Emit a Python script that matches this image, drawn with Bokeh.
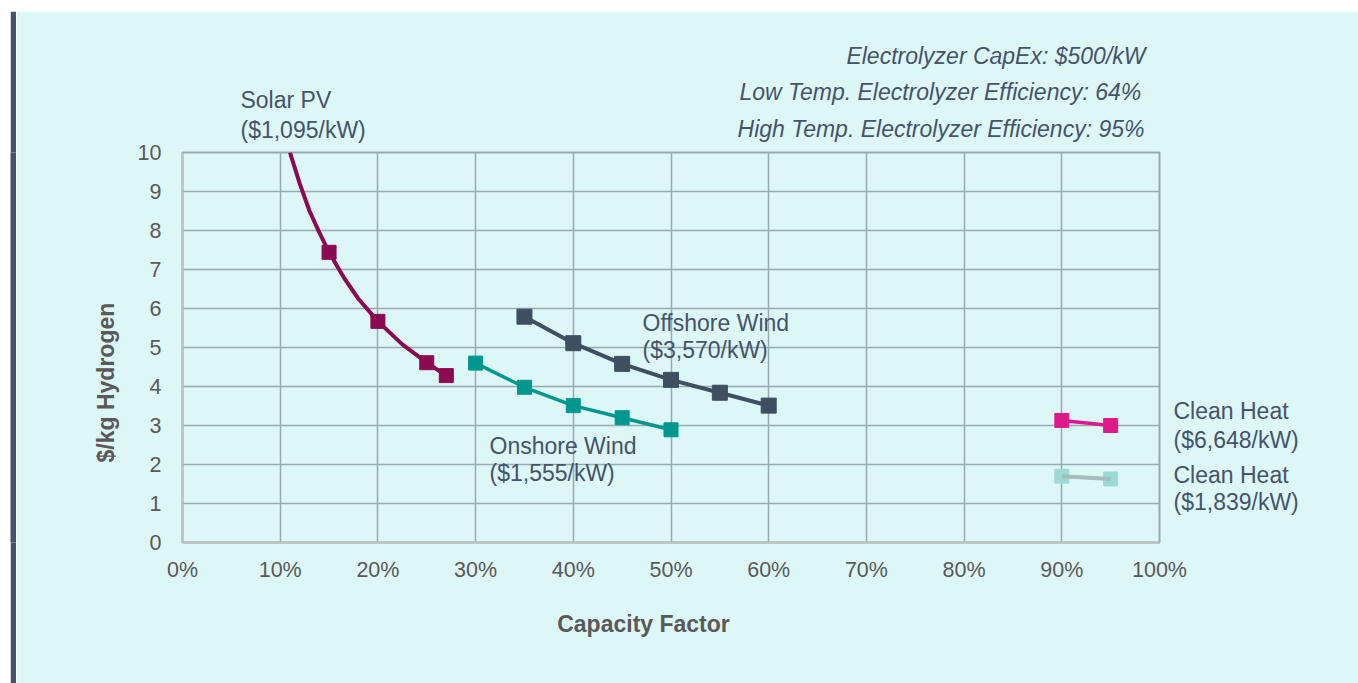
from math import pi
from bokeh.plotting import figure
from bokeh.layouts import row
from bokeh.models import LinearAxis, FixedTicker
from bokeh.embed import file_html
from bokeh.resources import INLINE

# ---- data ----
solar_curve_cf = [11.0, 12.0, 13.0, 14.0, 15.0, 16.5, 18.0, 20.0, 22.5, 25.0, 27.0]
solar_curve_cost = [10.0, 9.2, 8.5, 7.95, 7.44, 6.8, 6.25, 5.67, 5.08, 4.61, 4.28]
solar_cf = [15, 20, 25, 27]
solar_cost = [7.44, 5.67, 4.61, 4.28]

offshore_cf = [35, 40, 45, 50, 55, 60]
offshore_cost = [5.79, 5.11, 4.58, 4.17, 3.84, 3.51]

onshore_cf = [30, 35, 40, 45, 50]
onshore_cost = [4.60, 3.98, 3.51, 3.20, 2.89]

heat_high_cf = [90, 95]
heat_high_cost = [3.13, 3.00]
heat_low_cf = [90, 95]
heat_low_cost = [1.70, 1.63]

x_ticks = [0, 10, 20, 30, 40, 50, 60, 70, 80, 90, 100]
x_tick_labels = ["0%", "10%", "20%", "30%", "40%", "50%", "60%", "70%", "80%", "90%", "100%"]
y_ticks = [0, 1, 2, 3, 4, 5, 6, 7, 8, 9, 10]

solar_label = ["Solar PV", "($1,095/kW)"]
offshore_label = ["Offshore Wind", "($3,570/kW)"]
onshore_label = ["Onshore Wind", "($1,555/kW)"]
heat_labels = ["Clean Heat", "($6,648/kW)", "Clean Heat", "($1,839/kW)"]
notes = ["Electrolyzer CapEx: $500/kW",
         "Low Temp. Electrolyzer  Efficiency: 64%",
         "High Temp. Electrolyzer Efficiency: 95%"]
x_title = "Capacity Factor"
y_title = "$/kg Hydrogen"

# ---- styles ----
BG = "#DDF6F6"
BAR = "#44546A"
FONT = "Liberation Sans"
LABEL_C = "#44546A"
TICK_C = "#595959"
GRID_C = "#97ABAE"
FS = 23          # label font size (px)
TFS = "21.5px"   # tick font size

C_SOLAR = "#8B0A50"
C_OFF = "#3E4F5F"
C_ON = "#00978F"
C_HEAT_HI = "#E0198A"
C_HEAT_LO_M = "#9DDAD6"
C_HEAT_LO_L = "#A3BEC0"

# Arial / Liberation Sans advance widths (1/1000 em), for placing text
_W = {" ": 278, "(": 333, ")": 333, "$": 556, ",": 278, "/": 278, ":": 278, ".": 278, "%": 889,
      "a": 556, "b": 556, "c": 500, "d": 556, "e": 556, "f": 278, "g": 556, "h": 556, "i": 222,
      "k": 500, "l": 222, "m": 833, "n": 556, "o": 556, "p": 556, "r": 333, "s": 500, "t": 278,
      "u": 556, "w": 722, "x": 500, "y": 500, "z": 500,
      "C": 722, "E": 667, "H": 722, "L": 556, "O": 778, "P": 667, "S": 667, "T": 611, "V": 667,
      "W": 944}
_WB = {"$": 556, "/": 278, "k": 556, "g": 611, " ": 278, "H": 722, "y": 556, "d": 611, "r": 389,
       "o": 611, "e": 556, "n": 611}


def text_w(s, fs=FS, table=_W):
    s = " ".join(s.split())  # svg collapses repeated spaces
    return sum(table.get(ch, 556) for ch in s) * fs / 1000.0


# frame geometry in page pixels (for converting text anchors)
FX0, FX1 = 182, 1159
FY0, FY1 = 542, 152
PX_PER_X = (FX1 - FX0) / 100.0
PX_PER_Y = (FY0 - FY1) / 10.0


def center_from_left(left_px, s):
    return (left_px + text_w(s) / 2 - FX0) / PX_PER_X


def center_from_right(right_px, s):
    return (right_px - text_w(s) / 2 - FX0) / PX_PER_X


p = figure(width=1342, height=672, x_range=(0, 100), y_range=(0, 10),
           output_backend="svg", toolbar_location=None,
           min_border_left=166, min_border_right=199,
           min_border_top=141, min_border_bottom=141,
           background_fill_color=BG, border_fill_color=BG,
           outline_line_color=GRID_C, outline_line_width=2,
           margin=(11, 0, 0, 0))

p.xaxis.ticker = FixedTicker(ticks=x_ticks)
p.xaxis.major_label_overrides = {t: l for t, l in zip(x_ticks, x_tick_labels)}
p.yaxis.ticker = FixedTicker(ticks=y_ticks)
for ax in (p.xaxis, p.yaxis):
    ax.major_tick_line_color = None
    ax.minor_tick_line_color = None
    ax.major_tick_out = 0
    ax.major_tick_in = 0
    ax.minor_tick_out = 0
    ax.axis_line_color = "#BFBFBF"
    ax.axis_line_width = 2
    ax.major_label_text_font = FONT
    ax.major_label_text_font_size = TFS
    ax.major_label_text_color = TICK_C
p.xaxis.major_label_standoff = 15
p.yaxis.major_label_standoff = 21

p.xgrid.ticker = FixedTicker(ticks=x_ticks)
p.ygrid.ticker = FixedTicker(ticks=y_ticks)
p.grid.grid_line_color = GRID_C
p.grid.grid_line_width = 1.5


def text_axis(place, ticks, labels, standoff, color=LABEL_C, style="normal", orient="horizontal"):
    ax = LinearAxis(ticker=FixedTicker(ticks=ticks),
                    major_label_overrides={t: l for t, l in zip(ticks, labels)},
                    axis_line_color=None, major_tick_line_color=None, minor_tick_line_color=None,
                    major_tick_out=0, major_tick_in=0, minor_tick_out=0, minor_tick_in=0,
                    major_label_standoff=standoff, major_label_text_font=FONT,
                    major_label_text_font_size=f"{FS}px", major_label_text_color=color,
                    major_label_text_font_style=style, major_label_orientation=orient)
    p.add_layout(ax, place)
    return ax


# series
p.line(solar_curve_cf, solar_curve_cost, line_color=C_SOLAR, line_width=4)
p.scatter(solar_cf, solar_cost, marker="square", size=14, color=C_SOLAR)

p.line(offshore_cf, offshore_cost, line_color=C_OFF, line_width=4)
p.scatter(offshore_cf, offshore_cost, marker="square", size=15, color=C_OFF)

p.line(onshore_cf, onshore_cost, line_color=C_ON, line_width=3.5)
p.scatter(onshore_cf, onshore_cost, marker="square", size=14, color=C_ON)

p.line(heat_high_cf, heat_high_cost, line_color=C_HEAT_HI, line_width=3.5)
p.scatter(heat_high_cf, heat_high_cost, marker="square", size=14, color=C_HEAT_HI)

p.scatter(heat_low_cf, heat_low_cost, marker="square", size=14, color=C_HEAT_LO_M)
p.line(heat_low_cf, heat_low_cost, line_color=C_HEAT_LO_L, line_width=4)

# in-frame series labels
for lbl, left_px, ys in ((offshore_label, 642, (5.64, 4.93)), (onshore_label, 489, (2.47, 1.78))):
    for s, yy in zip(lbl, ys):
        p.text(x=[(left_px - FX0) / PX_PER_X], y=[yy], text=[s], text_align="left",
               text_baseline="middle", text_font={"value": FONT}, text_font_size=f"{FS}px",
               text_color=LABEL_C)

# text rows above the frame (stacked outward from the frame)
text_axis("above", [center_from_left(240, solar_label[1])], [solar_label[1]], 10)
text_axis("above", [center_from_right(1145, notes[2])], [notes[2]], -28, style="italic")
text_axis("above", [center_from_left(240, solar_label[0])], [solar_label[0]], 0)
text_axis("above", [center_from_right(1145, notes[1])], [notes[1]], -21, style="italic")
text_axis("above", [center_from_right(1145, notes[0])], [notes[0]], 7, style="italic")

# right side labels for clean heat
text_axis("right", [3.36, 2.62, 1.74, 1.05], heat_labels, 14)

# axis titles
text_axis("below", [(643 - FX0) / PX_PER_X], [x_title], 26, color=TICK_C, style="bold")
# rotated label is anchored at its end: shift the anchor by half the text length
y_title_anchor = 4.10 + text_w(y_title, table=_WB) / 2 / PX_PER_Y
text_axis("left", [y_title_anchor], [y_title], 28, color=TICK_C, style="bold", orient=pi / 2)

# dark left bar
bar = figure(width=6, height=672, output_backend="svg", toolbar_location=None,
             min_border=0, background_fill_color=BAR, border_fill_color=BAR,
             outline_line_color=None, margin=(11, 0, 0, 10))
bar.axis.visible = False
bar.grid.visible = False

layout = row(bar, p)
open("out.html", "w").write(file_html(layout, INLINE))
